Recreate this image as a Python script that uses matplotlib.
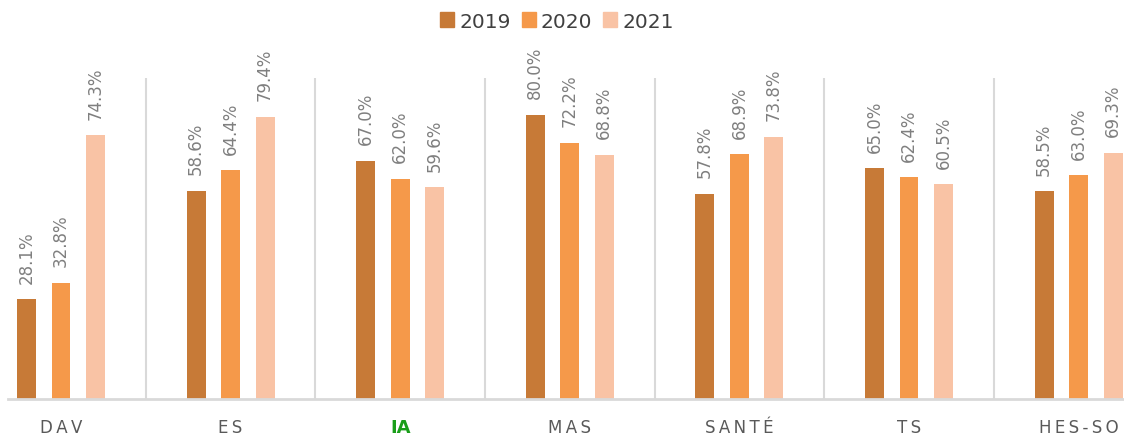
import matplotlib
matplotlib.use("Agg")
import matplotlib.pyplot as plt
import numpy as np

# data
categories = ["DAV", "ES", "IA", "MAS", "SANTÉ", "TS", "HES-SO"]
years = ["2019", "2020", "2021"]
v2019 = [28.1, 58.6, 67.0, 80.0, 57.8, 65.0, 58.5]
v2020 = [32.8, 64.4, 62.0, 72.2, 68.9, 62.4, 63.0]
v2021 = [74.3, 79.4, 59.6, 68.8, 73.8, 60.5, 69.3]
colors = ["#C77A37", "#F5994A", "#F9C3A5"]

fig = plt.figure(figsize=(11.24, 4.39), dpi=100)
W, H = 1124, 439
# plot area in pixels: baseline at y=400, top at y=79, starts at x=8
ax = fig.add_axes([8 / W, (H - 400) / H, 1 - 8 / W, (400 - 79) / H])

x = np.arange(len(categories))
offsets = [-0.203, 0.0, 0.203]
width = 0.112

for vals, off, col in zip([v2019, v2020, v2021], offsets, colors):
    bars = ax.bar(x + off, vals, width, color=col)
    for b, v in zip(bars, vals):
        ax.annotate(f"{v:.1f}%", (b.get_x() + b.get_width() / 2, v),
                    xytext=(0, 12), textcoords="offset points",
                    ha="center", va="bottom", rotation=90,
                    fontsize=12, color="#7F7F7F")

# light separators between groups
for s in x[:-1] + 0.5:
    ax.axvline(s, color="#D9D9D9", lw=1.5, zorder=0)

ax.set_xlim((8 - 61) / 169.6, (W - 61) / 169.6)
ax.set_ylim(0, 90.4)
ax.set_yticks([])
for side in ["top", "left", "right"]:
    ax.spines[side].set_visible(False)
ax.spines["bottom"].set_color("#D9D9D9")
ax.spines["bottom"].set_linewidth(2)

# letter-spaced category labels (IA stays tight and highlighted)
spaced = [c if c == "IA" else "\u2009".join(c) for c in categories]
ax.set_xticks(x)
ax.set_xticklabels(spaced, fontsize=12, color="#595959")
ax.tick_params(axis="x", length=0, pad=14)
ia = ax.get_xticklabels()[categories.index("IA")]
ia.set_color("#1A9E1A")
ia.set_fontweight("bold")
ia.set_fontsize(13)

handles = [plt.Rectangle((0, 0), 1, 1, color=c) for c in colors]
fig.legend(handles, years, loc="center", bbox_to_anchor=(557 / W, 1 - 22 / H),
           ncol=3, frameon=False, fontsize=14.5, labelcolor="#404040",
           handlelength=0.7, handleheight=0.7, handletextpad=0.25,
           columnspacing=0.55)

fig.savefig("out.png", dpi=100)
